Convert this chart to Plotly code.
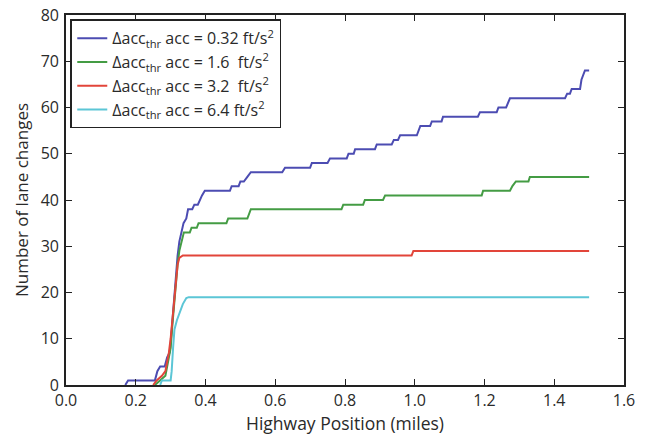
import plotly.graph_objects as go

blue_x = [0.170, 0.178, 0.255, 0.262, 0.270, 0.283, 0.290, 0.297, 0.300, 0.305, 0.310, 0.315, 0.320, 0.325, 0.330, 0.337, 0.345, 0.350, 0.362, 0.368, 0.378, 0.383, 0.390, 0.398, 0.470, 0.475, 0.495, 0.500, 0.510, 0.520, 0.530, 0.620, 0.628, 0.700, 0.705, 0.750, 0.757, 0.805, 0.810, 0.825, 0.829, 0.886, 0.891, 0.934, 0.940, 0.952, 0.958, 1.006, 1.012, 1.016, 1.044, 1.049, 1.077, 1.081, 1.181, 1.187, 1.235, 1.240, 1.262, 1.268, 1.273, 1.431, 1.437, 1.445, 1.450, 1.474, 1.478, 1.488, 1.500]
blue_y = [0, 1, 1, 3, 4, 4, 6, 7, 9, 14, 19, 24, 28, 31, 33, 35, 36, 38, 38, 39, 39, 40, 41, 42, 42, 43, 43, 44, 44, 45, 46, 46, 47, 47, 48, 48, 49, 49, 50, 50, 51, 51, 52, 52, 53, 53, 54, 54, 55, 56, 56, 57, 57, 58, 58, 59, 59, 60, 60, 61, 62, 62, 63, 63, 64, 64, 66, 68, 68]

green_x = [0.255, 0.270, 0.285, 0.290, 0.296, 0.300, 0.305, 0.310, 0.315, 0.320, 0.325, 0.332, 0.338, 0.355, 0.360, 0.375, 0.380, 0.460, 0.465, 0.520, 0.530, 0.790, 0.795, 0.852, 0.857, 0.909, 0.915, 1.192, 1.196, 1.273, 1.280, 1.290, 1.326, 1.330, 1.500]
green_y = [0, 1, 2, 4, 6, 8, 13, 18, 23, 26, 29, 31, 33, 33, 34, 34, 35, 35, 36, 36, 38, 38, 39, 39, 40, 40, 41, 41, 42, 42, 43, 44, 44, 45, 45]

red_x = [0.250, 0.260, 0.275, 0.285, 0.290, 0.295, 0.300, 0.305, 0.310, 0.315, 0.320, 0.325, 0.335, 0.991, 0.996, 1.500]
red_y = [0, 1, 2, 3, 5, 7, 10, 14, 19, 23, 26, 27.5, 28, 28, 29, 29]

cyan_x = [0.270, 0.275, 0.300, 0.303, 0.307, 0.311, 0.318, 0.327, 0.335, 0.345, 0.352, 1.500]
cyan_y = [0, 1, 1, 3, 8, 12, 14, 16, 17.5, 18.8, 19, 19]

labels = [
    "Δacc<sub>thr</sub> acc = 0.32 ft/s<sup>2</sup>",
    "Δacc<sub>thr</sub> acc = 1.6 \u00a0ft/s<sup>2</sup>",
    "Δacc<sub>thr</sub> acc = 3.2 \u00a0ft/s<sup>2</sup>",
    "Δacc<sub>thr</sub> acc = 6.4 ft/s<sup>2</sup>",
]
colors = ["#4c4cb2", "#449c44", "#e2453a", "#5cc6d6"]

x_ticks = [0.0, 0.2, 0.4, 0.6, 0.8, 1.0, 1.2, 1.4, 1.6]
y_ticks = [0, 10, 20, 30, 40, 50, 60, 70, 80]

fig = go.Figure()
for xs, ys, lab, col in zip([blue_x, green_x, red_x, cyan_x],
                            [blue_y, green_y, red_y, cyan_y], labels, colors):
    fig.add_trace(go.Scatter(x=xs, y=ys, mode="lines", name=lab,
                             line=dict(color=col, width=2)))

axis_common = dict(showline=True, linecolor="#222", linewidth=1.6, mirror="allticks",
                   ticks="inside", ticklen=6, tickcolor="#222", showgrid=False,
                   zeroline=False, automargin=False,
                   tickfont=dict(size=16, color="#2a2a2a"))

fig.update_layout(
    width=647, height=439,
    margin=dict(l=66, r=23, t=15, b=54, autoexpand=False),
    paper_bgcolor="white", plot_bgcolor="white",
    font=dict(family="Open Sans", size=16, color="#2a2a2a"),
    xaxis=dict(range=[0, 1.6], tickvals=x_ticks, ticktext=[f"{v:.1f}" for v in x_ticks],
               ticklabelstandoff=0,
               title=dict(text="Highway Position (miles)", font=dict(size=17.5), standoff=4),
               **axis_common),
    yaxis=dict(range=[0, 80], tickvals=y_ticks, ticklabelstandoff=2,
               title=dict(text="Number of lane changes", font=dict(size=17), standoff=8),
               **axis_common),
    legend=dict(x=0.008, y=0.988, xanchor="left", yanchor="top",
                bordercolor="#222", borderwidth=1.8, bgcolor="white",
                font=dict(size=16, color="#2a2a2a"), tracegroupgap=0),
    showlegend=True,
)

fig.write_html("out.html")
